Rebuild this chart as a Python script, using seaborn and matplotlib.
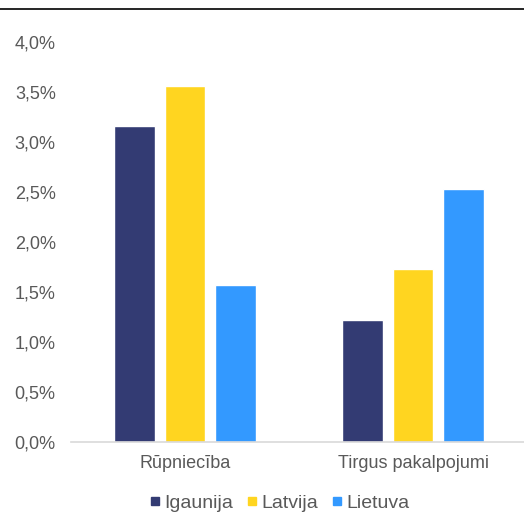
import matplotlib
matplotlib.use("Agg")
import matplotlib.pyplot as plt
import seaborn as sns
import pandas as pd
from matplotlib.ticker import FuncFormatter
from matplotlib.lines import Line2D

categories = ["Rūpniecība", "Tirgus pakalpojumi"]
countries = ["Igaunija", "Latvija", "Lietuva"]
igaunija = [3.16, 1.22]
latvija = [3.56, 1.73]
lietuva = [1.57, 2.53]
colors = ["#333B73", "#FFD520", "#3399FF"]

rows = []
for c, vals in zip(countries, [igaunija, latvija, lietuva]):
    for cat, v in zip(categories, vals):
        rows.append({"Nozare": cat, "Valsts": c, "Vērtība": v})
df = pd.DataFrame(rows)

sns.set_theme(style="white")
plt.rcParams["font.family"] = ["Liberation Sans", "DejaVu Sans"]

fig = plt.figure(figsize=(5.24, 5.13), dpi=100)
ax = fig.add_axes([71/524, (513-442)/513, (524-71)/524, 400/513])

sns.barplot(data=df, x="Nozare", y="Vērtība", hue="Valsts", order=categories,
            hue_order=countries, palette=colors, width=0.665, gap=0.2,
            saturation=1, ax=ax, legend=False)

ax.set_xlim(-0.5, (524-185)/228)
ax.set_ylim(0, 4.0)
ax.set_yticks([i*0.5 for i in range(9)])
ax.yaxis.set_major_formatter(FuncFormatter(lambda v, p: f"{v:.1f}%".replace(".", ",")))
ax.set_xlabel("")
ax.set_ylabel("")
for s in ["top", "right", "left"]:
    ax.spines[s].set_visible(False)
ax.spines["bottom"].set_color("#D9D9D9")
ax.spines["bottom"].set_linewidth(1.2)
ax.tick_params(axis="both", length=0, labelsize=13, labelcolor="#595959")
ax.tick_params(axis="y", pad=11)
ax.tick_params(axis="x", pad=9)

handles = [Line2D([0], [0], marker="s", linestyle="", markersize=6,
                  markerfacecolor=col, markeredgecolor=col) for col in colors]
fig.legend(handles, countries, loc="center", bbox_to_anchor=(280/524, 1 - 503/513),
           ncol=3, frameon=False, fontsize=14, handletextpad=0.25,
           handlelength=0.5, columnspacing=0.7, labelcolor="#595959")

fig.add_artist(Line2D([0, 1], [1 - 9/513, 1 - 9/513], color="black", linewidth=1.2,
                      transform=fig.transFigure))

fig.savefig("out.png", dpi=100)
